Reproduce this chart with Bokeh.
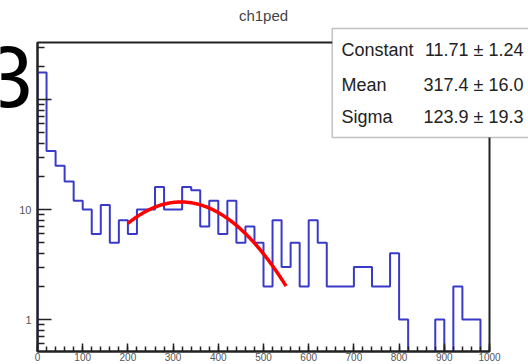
import numpy as np
from bokeh.plotting import figure
from bokeh.models import Range1d, Label, BoxAnnotation, SingleIntervalTicker, FixedTicker
from bokeh.embed import file_html
from bokeh.resources import INLINE

# ---------------- data ----------------
title_text = "ch1ped"
x_lo, x_hi, n_bins = 0, 1000, 50
counts = [176, 34, 25, 18, 12, 10, 6, 11, 5, 8,
          6, 10, 10, 16, 10, 10, 16, 15, 7, 12,
          6, 12, 5, 7, 5, 2, 8, 3, 5, 2,
          8, 5, 2, 2, 2, 3, 3, 2, 2, 4,
          1, 0, 0, 0, 1, 0, 2, 1, 1, 0]
fit_constant, fit_constant_err = 11.71, 1.24
fit_mean, fit_mean_err = 317.4, 16.0
fit_sigma, fit_sigma_err = 123.9, 19.3
fit_x_min, fit_x_max = 200, 550
x_tick_interval = 100
y_major_ticks = [1, 10, 100]
y_tick_labels = {1: "1", 10: "10", 100: ""}
panel_label = "3"

# ---------------- main histogram figure ----------------
y_lo, y_hi = 0.512, 330
FONT = "Liberation Sans"
W, H = 528, 364

p = figure(width=W, height=H, output_backend="svg", toolbar_location=None,
           x_range=Range1d(x_lo, x_hi), y_range=Range1d(y_lo, y_hi),
           y_axis_type="log", title=None,
           min_border_left=37, min_border_right=39, min_border_top=42, min_border_bottom=13)
p.background_fill_color = "white"
p.border_fill_color = "white"
p.grid.visible = False
p.outline_line_color = "#222222"
p.outline_line_width = 2

edges = np.linspace(x_lo, x_hi, n_bins + 1)
c = np.array(counts, dtype=float)
floor = y_lo * 0.5
c_plot = np.where(c > 0, c, floor)
xs = np.repeat(edges, 2)
ys = np.concatenate([[floor], np.repeat(c_plot, 2), [floor]])
p.line(xs, ys, line_color="#3a3ac8", line_width=2)

fx = np.linspace(fit_x_min, fit_x_max, 200)
fy = fit_constant * np.exp(-0.5 * ((fx - fit_mean) / fit_sigma) ** 2)
p.line(fx, fy, line_color="#ff0000", line_width=3.5)

for ax in (p.xaxis, p.yaxis):
    ax.axis_line_color = "#222222"
    ax.axis_line_width = 2
    ax.major_tick_line_color = "#222222"
    ax.minor_tick_line_color = "#222222"
    ax.major_tick_line_width = 1.5
    ax.minor_tick_line_width = 1.5
    ax.major_tick_out = 0
    ax.minor_tick_out = 0
    ax.major_label_text_font = FONT
    ax.major_label_text_color = "#555555"

p.xaxis.ticker = SingleIntervalTicker(interval=x_tick_interval, num_minor_ticks=5)
p.xaxis.major_tick_in = 8
p.xaxis.minor_tick_in = 5
p.xaxis.major_label_text_font_size = "10px"
p.xaxis.major_label_standoff = 1

minor = [m * 10.0 ** d for d in (-1, 0, 1, 2) for m in range(2, 10)]
minor = [v for v in minor if y_lo <= v <= y_hi]
p.yaxis.ticker = FixedTicker(ticks=y_major_ticks, minor_ticks=minor)
p.yaxis.major_label_overrides = y_tick_labels
p.yaxis.major_tick_in = 14
p.yaxis.minor_tick_in = 7
p.yaxis.major_label_text_font_size = "11px"
p.yaxis.major_label_standoff = 6

# ---------------- overlay figure (page pixels, y down): title, stats box, panel label ----------------
q = figure(width=W, height=H, output_backend="svg", toolbar_location=None,
           x_range=Range1d(0, W), y_range=Range1d(H, 0),
           x_axis_location=None, y_axis_location=None,
           min_border_left=0, min_border_right=0, min_border_top=0, min_border_bottom=0,
           title=None)
q.grid.visible = False
q.outline_line_color = None
q.background_fill_color = None
q.border_fill_color = None
q.styles = {"position": "absolute", "left": "0px", "top": "0px", "z-index": "2"}

q.add_layout(Label(x=263, y=15, text=title_text, text_font=FONT, text_font_size="15px",
                   text_color="#444444", text_align="center", text_baseline="middle"))

q.add_layout(BoxAnnotation(left=331.7, right=W + 20, top=28, bottom=137,
                           fill_color="white", fill_alpha=1.0,
                           line_color="#333333", line_width=1.5))

rows = [("Constant", f"{fit_constant:.2f} \u00b1 {fit_constant_err:.2f}", 49),
        ("Mean", f"{fit_mean:.1f} \u00b1 {fit_mean_err:.1f}", 84.5),
        ("Sigma", f"{fit_sigma:.1f} \u00b1 {fit_sigma_err:.1f}", 116.5)]
for name, val, ypix in rows:
    q.add_layout(Label(x=341, y=ypix, text=name, text_font=FONT, text_font_size="18px",
                       text_color="#222222", text_align="left", text_baseline="middle"))
    q.add_layout(Label(x=523, y=ypix, text=val, text_font=FONT, text_font_size="18px",
                       text_color="#222222", text_align="right", text_baseline="middle"))

q.add_layout(Label(x=-17, y=76, text=panel_label, text_font=FONT, text_font_size="88px",
                   text_color="black", text_align="left", text_baseline="middle"))

open("out.html", "w").write(file_html([p, q], INLINE))
